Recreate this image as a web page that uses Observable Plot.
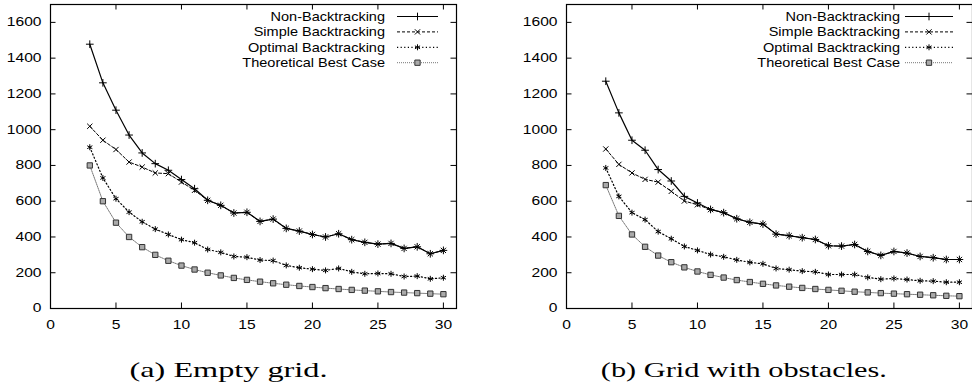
<!DOCTYPE html>
<html>
<head>
<meta charset="utf-8">
<script src="https://cdn.jsdelivr.net/npm/d3@7"></script>
<script src="https://cdn.jsdelivr.net/npm/@observablehq/plot@0.6"></script>
<style>
  html, body { margin: 0; padding: 0; background: #fff; }
  #wrap { position: relative; width: 972px; height: 388px; overflow: hidden; background: #fff; }
  .panel { position: absolute; top: 0; }
  .cap { position: absolute; top: 359px; font-family: "Liberation Serif", "Times New Roman", serif;
         font-size: 22px; line-height: 22px; white-space: nowrap; color: #000; transform-origin: center center; }
</style>
</head>
<body>
<div id="wrap"></div>
<script>
// ---- data ----
const sizes = [3,4,5,6,7,8,9,10,11,12,13,14,15,16,17,18,19,20,21,22,23,24,25,26,27,28,29,30];
const seriesNames = ["Non-Backtracking", "Simple Backtracking", "Optimal Backtracking", "Theoretical Best Case"];

// (a) Empty grid
const emptyNon    = [1478,1262,1109,970,870,810,773,721,670,605,577,534,538,487,500,448,433,414,400,418,385,370,360,364,336,345,306,325];
const emptySimple = [1019,941,889,819,791,758,754,707,661,605,577,534,538,487,500,448,433,414,400,418,385,370,360,364,336,345,306,325];
const emptyOpt    = [902,730,614,539,485,444,414,385,368,330,314,291,287,271,268,241,228,220,213,224,205,194,196,194,179,181,166,172];
const emptyTheo   = [800,600,480,400,343,300,267,240,218,200,185,171,160,150,141,133,126,120,114,109,104,100,96,92,89,86,83,80];

// (b) Grid with obstacles
const obstNon     = [1271,1094,941,885,777,713,627,590,554,536,502,482,472,416,407,396,386,351,349,358,319,297,319,310,291,284,274,274];
const obstSimple  = [892,806,758,722,707,655,601,580,553,536,502,482,472,416,407,396,386,351,349,358,319,297,319,310,291,284,274,274];
const obstOpt     = [786,627,536,497,430,390,347,325,302,289,272,258,250,224,217,209,205,190,190,190,174,164,168,162,155,153,147,147];
const obstTheo    = [690,518,414,345,296,259,230,207,188,173,159,148,138,129,122,115,109,104,99,94,90,86,83,80,77,74,71,69];

const xTicks = [0,5,10,15,20,25,30];
const yTicks = [0,200,400,600,800,1000,1200,1400,1600];
const captions = ["(a) Empty grid.", "(b) Grid with obstacles."];

// ---- styles ----
const styles = [
  {stroke: "#000", dash: undefined, width: 1.2, symbol: "plus",     d3sym: d3.symbolPlus,     r: 2.6, fill: "none", sstroke: "#000"},
  {stroke: "#000", dash: "3,2",     width: 1,   symbol: "times",    d3sym: d3.symbolTimes,    r: 2.5, fill: "none", sstroke: "#000"},
  {stroke: "#000", dash: "1.2,2.4", width: 1.2, symbol: "asterisk", d3sym: d3.symbolAsterisk, r: 2.8, fill: "none", sstroke: "#000"},
  {stroke: "#777", dash: "1,1",     width: 1,   symbol: "square",   d3sym: d3.symbolSquare,   r: 3.0, fill: "#aaa", sstroke: "#333"}
];
const AXIS_SX = 1.27;
const LEGEND_SX = 1.18;

function makePanel(seriesArrays, cfg) {
  const FL = 50, FT = 4, H = 335, MB = 27, FW = 406;
  const W = cfg.width, MR = W - FL - FW, FH = H - FT - MB;
  const tick = 5.5;
  const rows = seriesArrays.map((vals, k) => sizes.map((x, i) => ({s: seriesNames[k], x, y: vals[i]})));
  const marks = [];
  marks.push(Plot.tickY(yTicks, {y: d => d, insetRight: FW - tick, stroke: "#000"}));
  marks.push(Plot.tickY(yTicks, {y: d => d, insetLeft: FW - tick, stroke: "#000"}));
  marks.push(Plot.tickX(xTicks, {x: d => d, insetTop: FH - tick, stroke: "#000"}));
  marks.push(Plot.tickX(xTicks, {x: d => d, insetBottom: FH - tick, stroke: "#000"}));
  rows.forEach((r, k) => {
    const st = styles[k];
    marks.push(Plot.line(r, {x: "x", y: "y", stroke: st.stroke, strokeWidth: st.width, strokeDasharray: st.dash}));
    marks.push(Plot.dot(r, {x: "x", y: "y", symbol: st.symbol, r: st.r, stroke: st.sstroke, fill: st.fill, strokeWidth: 1}));
  });
  marks.push(Plot.frame({stroke: "#000", strokeWidth: 1.2}));

  const svg = Plot.plot({
    width: W, height: H,
    marginLeft: FL, marginRight: MR, marginTop: FT, marginBottom: MB,
    style: {fontFamily: "'Liberation Sans', Arial, sans-serif", fontSize: "12.3px", background: "white", color: "black", overflow: "visible"},
    x: {domain: [0, 31], ticks: xTicks, tickSize: 0, tickPadding: 12, label: null, tickFormat: "d"},
    y: {domain: [0, 1700], ticks: yTicks, tickSize: 0, tickPadding: 9, label: null, tickFormat: "d"},
    marks
  });

  // horizontal stretch of axis text, like the original output
  svg.querySelectorAll("text").forEach(t => {
    if (t.hasAttribute("x")) t.setAttribute("x", (+t.getAttribute("x")) / AXIS_SX);
    const tr = t.getAttribute("transform") || "";
    t.setAttribute("transform", tr + ` scale(${AXIS_SX},1)`);
  });

  // legend (inside top-right of the frame)
  const frameRight = FL + FW;
  const g = d3.select(svg).append("g").attr("font-family", "'Liberation Sans', Arial, sans-serif").attr("font-size", "12.3px");
  seriesNames.forEach((name, k) => {
    const st = styles[k];
    const y = FT + 12.5 + k * 15.4;
    g.append("text")
      .attr("text-anchor", "end")
      .attr("dy", "0.35em")
      .attr("fill", "#000")
      .attr("transform", `translate(${frameRight - cfg.textOff},${y}) scale(${LEGEND_SX},1)`)
      .text(name);
    const x1 = frameRight - cfg.lineStart, x2 = frameRight - cfg.lineEnd;
    g.append("line").attr("x1", x1).attr("x2", x2).attr("y1", y).attr("y2", y)
      .attr("stroke", st.stroke).attr("stroke-width", st.width)
      .attr("stroke-dasharray", st.dash || null);
    g.append("path")
      .attr("transform", `translate(${(x1 + x2) / 2},${y})`)
      .attr("d", d3.symbol(st.d3sym, st.r * st.r * Math.PI)())
      .attr("stroke", st.sstroke).attr("fill", st.fill).attr("stroke-width", 1);
  });
  return svg;
}

const wrap = document.getElementById("wrap");
const panels = [
  {arrays: [emptyNon, emptySimple, emptyOpt, emptyTheo], left: 0, width: 486, textOff: 71, lineStart: 59, lineEnd: 18, capX: 229, capW: 198},
  {arrays: [obstNon, obstSimple, obstOpt, obstTheo], left: 516, width: 456, textOff: 72, lineStart: 67, lineEnd: 19, capX: 744, capW: 286}
];
panels.forEach((p, i) => {
  const div = document.createElement("div");
  div.className = "panel";
  div.style.left = p.left + "px";
  div.appendChild(makePanel(p.arrays, p));
  wrap.appendChild(div);

  const cap = document.createElement("div");
  cap.className = "cap";
  cap.textContent = captions[i];
  wrap.appendChild(cap);
  const w = cap.getBoundingClientRect().width;
  const s = p.capW / w;
  cap.style.left = (p.capX - w / 2) + "px";
  cap.style.transform = `scaleX(${s})`;
});
</script>
</body>
</html>
